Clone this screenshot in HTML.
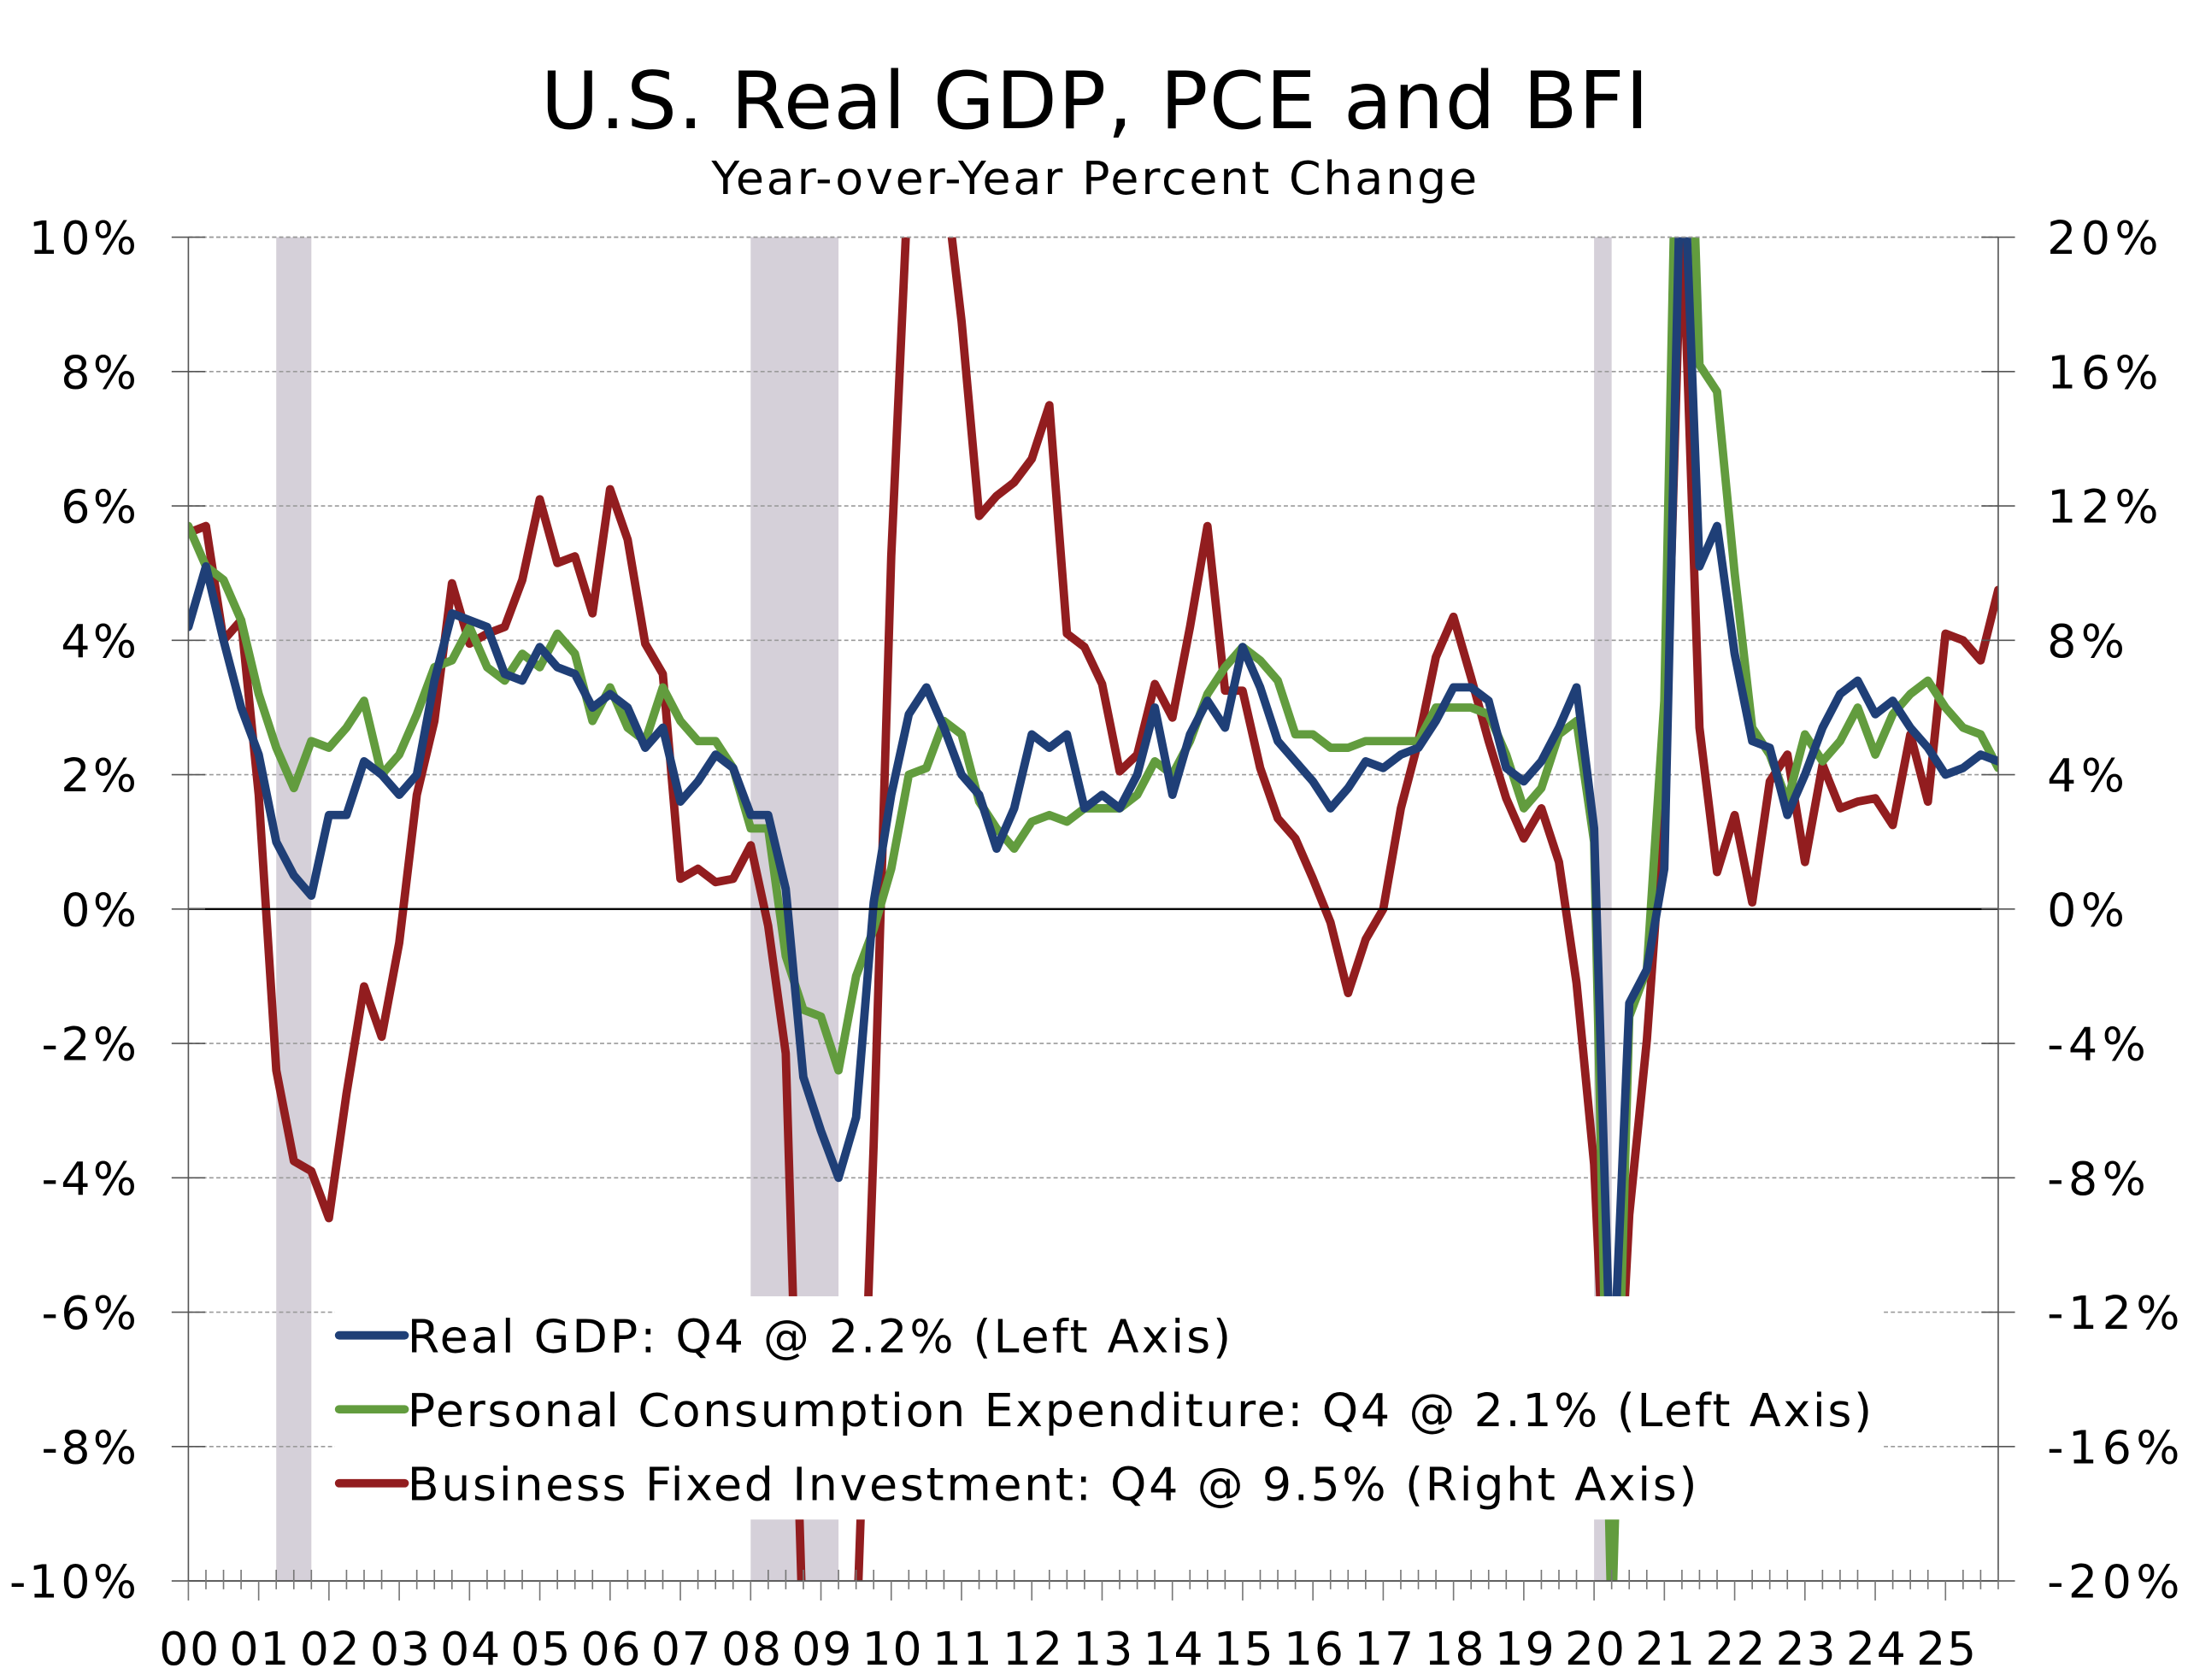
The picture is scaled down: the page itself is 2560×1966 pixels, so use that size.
<!DOCTYPE html>
<html><head><meta charset="utf-8"><style>
html,body{margin:0;padding:0;background:#fff}
svg{display:block}
text{font-family:"DejaVu Sans","Liberation Sans",sans-serif;fill:#000}
</style></head><body>
<svg id="chart" width="2560" height="1966" viewBox="0 0 1568 1204" preserveAspectRatio="none" xmlns="http://www.w3.org/2000/svg">
<defs><clipPath id="plotclip"><rect x="135" y="170" width="1297" height="963"/></clipPath></defs>
<rect width="1568" height="1204" fill="#fff"/>
<text x="785" y="92" font-size="57" text-anchor="middle" letter-spacing="0.8">U.S. Real GDP, PCE and BFI</text>
<text x="785" y="139" font-size="33" text-anchor="middle" letter-spacing="1.7">Year-over-Year Percent Change</text>
<g id="shade"></g>
<g id="grid"></g>
<g id="series" clip-path="url(#plotclip)"></g>
<g id="legend">
<rect x="240" y="929" width="1110" height="160" fill="#fff"/>
<line x1="243" y1="957" x2="290" y2="957" stroke="#1f3f77" stroke-width="6" stroke-linecap="round"/>
<text x="292" y="969" font-size="33" letter-spacing="1.8">Real GDP: Q4 @ 2.2% (Left Axis)</text>
<line x1="243" y1="1010" x2="290" y2="1010" stroke="#629c3e" stroke-width="6" stroke-linecap="round"/>
<text x="292" y="1022" font-size="33" letter-spacing="1.6">Personal Consumption Expenditure: Q4 @ 2.1% (Left Axis)</text>
<line x1="243" y1="1063" x2="290" y2="1063" stroke="#921d1f" stroke-width="6" stroke-linecap="round"/>
<text x="292" y="1075" font-size="33" letter-spacing="1.6">Business Fixed Investment: Q4 @ 9.5% (Right Axis)</text>
</g>
<g id="axes"></g>
</svg>
<script>
const years = ["00","01","02","03","04","05","06","07","08","09","10","11","12","13","14","15","16","17","18","19","20","21","22","23","24","25"];
const leftTicks = [-10,-8,-6,-4,-2,0,2,4,6,8,10];
const rightTicks = [-20,-16,-12,-8,-4,0,4,8,12,16,20];
const recessions = [[5,7],[32,37],[80,81]];
const gdp = [4.2,5.1,4.0,3.0, 2.3,1.0,0.5,0.2, 1.4,1.4,2.2,2.0, 1.7,2.0,3.4,4.4, 4.3,4.2,3.5,3.4, 3.9,3.6,3.5,3.0, 3.2,3.0,2.4,2.7, 1.6,1.9,2.3,2.1, 1.4,1.4,0.3,-2.5, -3.3,-4.0,-3.1,0.1, 1.7,2.9,3.3,2.7, 2.0,1.7,0.9,1.5, 2.6,2.4,2.6,1.5, 1.7,1.5,2.0,3.0, 1.7,2.6,3.1,2.7, 3.9,3.3,2.5,2.2, 1.9,1.5,1.8,2.2, 2.1,2.3,2.4,2.8, 3.3,3.3,3.1,2.1, 1.9,2.2,2.7,3.3, 1.2,-7.5,-1.4,-0.9, 0.6,12.0,5.1,5.7, 3.8,2.5,2.4,1.4, 2.0,2.7,3.2,3.4, 2.9,3.1,2.7,2.4, 2.0,2.1,2.3,2.2];
const pce = [5.7,5.1,4.9,4.3, 3.2,2.4,1.8,2.5, 2.4,2.7,3.1,2.0, 2.3,2.9,3.6,3.7, 4.2,3.6,3.4,3.8, 3.6,4.1,3.8,2.8, 3.3,2.7,2.5,3.3, 2.8,2.5,2.5,2.1, 1.2,1.2,-0.7,-1.5, -1.6,-2.4,-1.0,-0.3, 0.6,2.0,2.1,2.8, 2.6,1.6,1.2,0.9, 1.3,1.4,1.3,1.5, 1.5,1.5,1.7,2.2, 2.0,2.5,3.2,3.6, 3.9,3.7,3.4,2.6, 2.6,2.4,2.4,2.5, 2.5,2.5,2.5,3.0, 3.0,3.0,2.9,2.3, 1.5,1.8,2.6,2.8, 1.0,-10.8,-1.6,-0.9, 3.1,16.0,8.1,7.7, 5.0,2.7,2.3,1.6, 2.6,2.2,2.5,3.0, 2.3,2.9,3.2,3.4, 3.0,2.7,2.6,2.1];
const bfi = [11.2,11.4,8.0,8.6, 3.4,-4.8,-7.5,-7.8, -9.2,-5.5,-2.3,-3.8, -1.0,3.4,5.6,9.7, 7.9,8.2,8.4,9.8, 12.2,10.3,10.5,8.8, 12.5,11.0,7.9,7.0, 0.9,1.2,0.8,0.9, 1.9,-0.5,-4.3,-22.0, -25.0,-22.0,-22.0,-7.0, 10.5,22.0,25.0,22.0, 17.5,11.7,12.3,12.7, 13.4,15.0,8.2,7.8, 6.7,4.1,4.6,6.7, 5.7,8.4,11.4,6.5, 6.5,4.2,2.7,2.1, 0.9,-0.4,-2.5,-0.9, 0.0,3.0,5.0,7.5, 8.7,6.9,5.0,3.3, 2.1,3.0,1.4,-2.2, -7.6,-19.0,-9.1,-3.9, 3.3,21.0,5.4,1.1, 2.8,0.2,3.8,4.6, 1.4,4.3,3.0,3.2, 3.3,2.5,5.2,3.2, 8.2,8.0,7.4,9.5];

const X0=135, X1=1432, YT=170, YB=1133;
const n = gdp.length;
const xq = i => X0 + i*(X1-X0)/(n-1);
const yL = v => YT + (10 - v)*(YB-YT)/20;
const yR = v => YT + (20 - v)*(YB-YT)/40;
const NS="http://www.w3.org/2000/svg";
function mk(tag, attrs, parent){const e=document.createElementNS(NS,tag);for(const k in attrs)e.setAttribute(k,attrs[k]);parent.appendChild(e);return e;}

const shade=document.getElementById('shade');
recessions.forEach(r=>{
  const x=xq(r[0]), w=xq(r[1])-xq(r[0]);
  const el=mk('rect',{x:x,y:YT,width:w,height:YB-YT,fill:'#d5d0d9'},shade);
  
  
});

const grid=document.getElementById('grid');
leftTicks.forEach(v=>{
  if(v===0||v===-10)return;
  const el=mk('line',{x1:X0,x2:X1,y1:yL(v),y2:yL(v),stroke:'#9a9a9a','stroke-width':1,'stroke-dasharray':'3,2'},grid);
  
  
});

const series=document.getElementById('series');
function drawLine(arr, yf, color, name){
  const pts=arr.map((v,i)=>xq(i).toFixed(1)+','+yf(v).toFixed(1)).join(' ');
  const el=mk('polyline',{points:pts,fill:'none',stroke:color,'stroke-width':6,'stroke-linejoin':'round','stroke-linecap':'round'},series);
  
  
}
drawLine(bfi,yR,'#921d1f','bfi-line');
drawLine(pce,yL,'#629c3e','pce-line');
drawLine(gdp,yL,'#1f3f77','gdp-line');

const axes=document.getElementById('axes');
let z=mk('line',{x1:X0,x2:X1,y1:yL(0),y2:yL(0),stroke:'#000','stroke-width':1.5},axes);


mk('line',{x1:X0,x2:X0,y1:YT,y2:YB,stroke:'#555','stroke-width':1},axes);
mk('line',{x1:X1,x2:X1,y1:YT,y2:YB,stroke:'#555','stroke-width':1},axes);
mk('line',{x1:X0,x2:X1,y1:YB,y2:YB,stroke:'#555','stroke-width':1.2},axes);
mk('line',{x1:X0,x2:X1,y1:YT,y2:YT,stroke:'#9a9a9a','stroke-width':1,'stroke-dasharray':'3,2'},axes);
leftTicks.forEach(v=>{
  mk('line',{x1:X0-12,x2:X0+12,y1:yL(v),y2:yL(v),stroke:'#555','stroke-width':1},axes);
  const t=mk('text',{x:100,y:yL(v)+12,'font-size':33,'text-anchor':'end','letter-spacing':2},axes);
  t.textContent=v+'%';
  
  
});
rightTicks.forEach(v=>{
  mk('line',{x1:X1-12,x2:X1+12,y1:yR(v),y2:yR(v),stroke:'#555','stroke-width':1},axes);
  const t=mk('text',{x:1467,y:yR(v)+12,'font-size':33,'text-anchor':'start','letter-spacing':3.3},axes);
  t.textContent=v+'%';
  
  
});
for(let i=0;i<n;i++){
  const major=i%4===0;
  mk('line',{x1:xq(i),x2:xq(i),y1:YB-(major?0:8),y2:YB+(major?14:6),stroke:'#777','stroke-width':1},axes);
}
years.forEach((y,k)=>{
  const t=mk('text',{x:xq(k*4)+1,y:1193,'font-size':33,'text-anchor':'middle','letter-spacing':1},axes);
  t.textContent=y;
  
  
});
</script>
</body></html>
